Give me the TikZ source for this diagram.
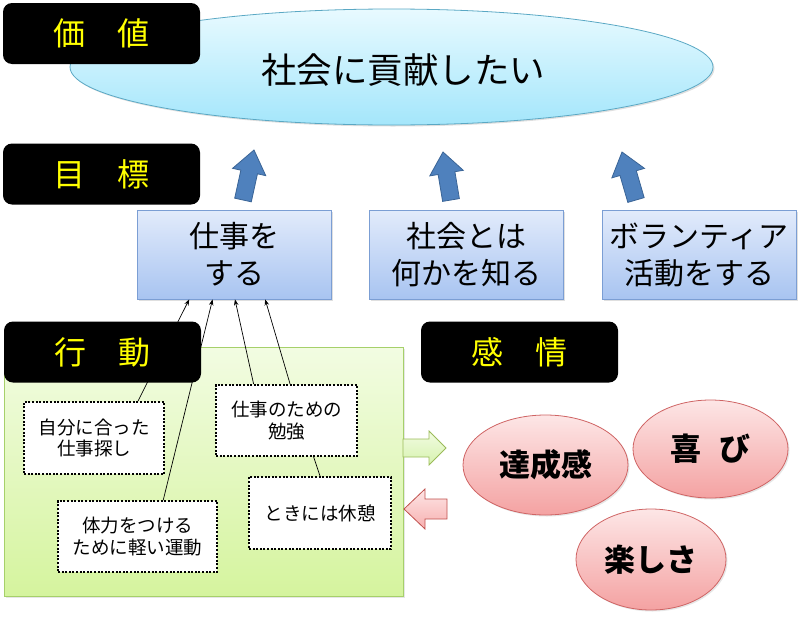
\documentclass[tikz,border=0pt]{standalone}
\usepackage{fontspec}
\setmainfont{Noto Sans CJK JP}
\usetikzlibrary{shapes.geometric,calc,arrows.meta,shadows}
\definecolor{boxtop}{HTML}{E2EBFB}
\definecolor{boxbot}{HTML}{A8C4F1}
\definecolor{boxborder}{HTML}{7B9ED4}
\definecolor{elltop}{HTML}{E8FAFF}
\definecolor{ellbot}{HTML}{A4E6FB}
\definecolor{ellborder}{HTML}{5AA8C4}
\definecolor{grtop}{HTML}{F2FCE2}
\definecolor{grbot}{HTML}{D5F49E}
\definecolor{grborder}{HTML}{A6D06A}
\definecolor{emotop}{HTML}{FDE6E6}
\definecolor{emobot}{HTML}{F4A2A2}
\definecolor{emoborder}{HTML}{CF6464}
\definecolor{arrowblue}{HTML}{4F81BD}
\definecolor{arrowborder}{HTML}{3A6496}
\definecolor{garrow}{HTML}{D6F2AE}
\definecolor{garrowb}{HTML}{9BBB59}
\definecolor{parrow}{HTML}{F7AFAF}
\definecolor{parrowb}{HTML}{C0504D}
\definecolor{tagyellow}{HTML}{FFFF00}
\newcommand{\blockup}[2]{%
  \coordinate (#1h) at ($(#1)!0.56!(#2)$);
  \path[upar] ($(#1)!8.5pt!90:(#2)$) -- ($(#1h)!8.5pt!90:(#2)$) -- ($(#1h)!17pt!90:(#2)$)
    -- (#2) -- ($(#1h)!17pt!-90:(#2)$) -- ($(#1h)!8.5pt!-90:(#2)$) -- ($(#1)!8.5pt!-90:(#2)$) -- cycle;
}
\tikzset{
  tag/.style={fill=black, rounded corners=9pt, minimum width=197pt, minimum height=61pt,
    text=tagyellow, font=\fontsize{32}{38}\selectfont, inner sep=0pt},
  goalbox/.style={draw=boxborder, line width=0.8pt, top color=boxtop, bottom color=boxbot,
    minimum width=194pt, minimum height=89pt, align=center,
    font=\fontsize{30}{37}\selectfont, inner sep=0pt,
    drop shadow={opacity=0.25, shadow xshift=1.5pt, shadow yshift=-1.5pt}},
  actbox/.style={draw=black, dash pattern=on 2pt off 1.6pt, line width=2pt, fill=white,
    align=center, font=\fontsize{18.5}{21.5}\selectfont, inner sep=0pt},
  emo/.style={ellipse, draw=emoborder, line width=0.8pt, top color=emotop, bottom color=emobot,
    font=\bfseries\fontsize{31}{36}\selectfont, inner sep=0pt,
    drop shadow={opacity=0.2, shadow xshift=1.5pt, shadow yshift=-1.5pt}},
  upar/.style={fill=arrowblue, draw=arrowborder, line width=0.8pt},
  thin/.style={draw=black, line width=0.7pt, -{Stealth[length=6pt,width=4.5pt]}},
}
\begin{document}
\begin{tikzpicture}[x=1pt,y=-1pt]
\useasboundingbox (0,0) rectangle (800,616);
% value ellipse
\node[ellipse, draw=ellborder, line width=0.8pt, top color=elltop, bottom color=ellbot,
  minimum width=643pt, minimum height=116pt, inner sep=0pt,
  drop shadow={opacity=0.25, shadow xshift=1.5pt, shadow yshift=-1.5pt}] (val) at (391.5,67) {};
\node[font=\fontsize{35.5}{40}\selectfont, inner sep=0pt] (valtext) at (403,70) {社会に貢献したい};
% blue arrows
\coordinate (b1) at (243,200); \coordinate (t1) at (254,150);
\coordinate (b2) at (451,200); \coordinate (t2) at (443,152);
\coordinate (b3) at (636,200); \coordinate (t3) at (622,152);
\blockup{b1}{t1}
\blockup{b2}{t2}
\blockup{b3}{t3}
% goal boxes
\node[goalbox] (g1) at (234,254.5) {仕事を\\する};
\node[goalbox] (g2) at (466.5,254.5) {社会とは\\何かを知る};
\node[goalbox] (g3) at (699,254.5) {ボランティア\\活動をする};
% action area
\node[draw=grborder, line width=0.8pt, top color=grtop, bottom color=grbot,
  minimum width=399pt, minimum height=249pt, inner sep=0pt,
  drop shadow={opacity=0.2, shadow xshift=1.5pt, shadow yshift=-1.5pt}] (act) at (203.5,471.5) {};
\node[actbox, minimum width=140pt, minimum height=72pt] (a1) at (94,438) {自分に合った\\仕事探し};
\node[actbox, minimum width=141pt, minimum height=71pt] (a2) at (286.5,420.5) {仕事のための\\勉強};
\node[actbox, minimum width=159pt, minimum height=71pt] (a3) at (137.5,536.5) {体力をつける\\ために軽い運動};
\node[actbox, minimum width=142pt, minimum height=72pt] (a4) at (320,513) {ときには休憩};
% thin arrows
\draw[thin] ($(a1.north west)!0.81!(a1.north east)$) -- ($(g1.south west)!0.27!(g1.south east)$);
\draw[thin] ($(a3.north west)!0.66!(a3.north east)$) -- ($(g1.south west)!0.39!(g1.south east)$);
\draw[thin] ($(a2.north west)!0.27!(a2.north east)$) -- ($(g1.south west)!0.505!(g1.south east)$);
\draw[thin] ($(a2.north west)!0.525!(a2.north east)$) -- ($(g1.south west)!0.66!(g1.south east)$);
\draw[line width=0.7pt] ($(a2.south west)!0.69!(a2.south east)$) -- ($(a4.north west)!0.5!(a4.north east)$);
% tags
\node[tag] (tv) at (101.5,33.5) {価　値};
\node[tag] (tg) at (101.5,174) {目　標};
\node[tag] (ta) at (102.5,352) {行　動};
\node[tag] (te) at (519.5,352) {感　情};
% side arrows
\path[top color=grtop, bottom color=garrow, draw=garrowb, line width=0.8pt]
  (403,439) -- (429,439) -- (429,431) -- (446,448) -- (429,465) -- (429,457) -- (403,457) -- cycle;
\path[top color=emotop, bottom color=parrow, draw=parrowb, line width=0.8pt]
  (447,499) -- (425,499) -- (425,489) -- (404,509) -- (425,529) -- (425,519) -- (447,519) -- cycle;
% emotions
\node[emo, minimum width=165pt, minimum height=100pt] (e1) at (545.5,465) {達成感};
\node[emo, minimum width=155pt, minimum height=98pt] (e2) at (710.5,449) {喜\hspace{0.6em}び};
\node[emo, minimum width=150pt, minimum height=101pt] (e3) at (651,559.5) {楽しさ};
\end{tikzpicture}
\end{document}
